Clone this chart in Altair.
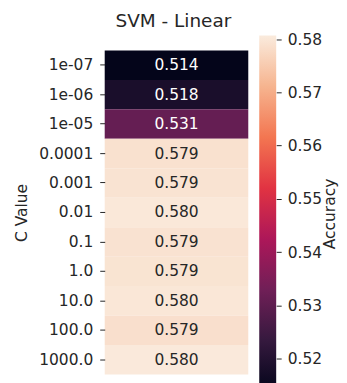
import altair as alt
import pandas as pd

c_labels = ["1e-07", "1e-06", "1e-05", "0.0001", "0.001", "0.01", "0.1",
            "1.0", "10.0", "100.0", "1000.0"]
accuracy = [0.5139, 0.5182, 0.5312, 0.5790, 0.5793, 0.5802, 0.5792,
            0.5794, 0.5800, 0.5787, 0.5804]
color_min, color_max = 0.5138, 0.5807
rocket = ["#03051A", "#35193E", "#701F57", "#AD1759", "#E13342",
          "#F37651", "#F6B48F", "#FAEBDD"]
legend_ticks = [0.52, 0.53, 0.54, 0.55, 0.56, 0.57, 0.58]

df = pd.DataFrame({
    "C": c_labels,
    "Accuracy": accuracy,
    "label": [f"{v:.3f}" for v in accuracy],
    "col": ["0"] * len(c_labels),
})
cbar_df = pd.DataFrame({"lo": [color_min], "hi": [color_max]})
domain = [color_min + (color_max - color_min) * i / (len(rocket) - 1)
          for i in range(len(rocket))]

FONT = "DejaVu Sans"
TXT = "#262626"
FS = 15.5

base = alt.Chart(df).encode(
    y=alt.Y("C:N", sort=c_labels, title="C Value",
            scale=alt.Scale(paddingInner=0, paddingOuter=0, range=[15, 340]),
            axis=alt.Axis(labelFont=FONT, labelFontSize=FS, labelColor=TXT,
                          titleFont=FONT, titleFontSize=FS, titleColor=TXT,
                          titleFontWeight="normal", titlePadding=9,
                          tickSize=5, tickColor=TXT, labelPadding=7,
                          domain=False, grid=False)),
    x=alt.X("col:N", axis=None, scale=alt.Scale(paddingInner=0, paddingOuter=0)),
)

rect = base.mark_rect().encode(
    color=alt.Color("Accuracy:Q",
                    scale=alt.Scale(domain=domain, range=rocket, interpolate="rgb"),
                    legend=None),
)

text = base.mark_text(font=FONT, fontSize=FS).encode(
    text="label:N",
    color=alt.condition("datum.Accuracy < 0.55", alt.value("white"), alt.value(TXT)),
)

heat = (rect + text).properties(width=144, height=340)

gradient = alt.Gradient(
    gradient="linear",
    stops=[alt.GradientStop(offset=i / (len(rocket) - 1), color=c)
           for i, c in enumerate(rocket)],
    x1=0, x2=0, y1=1, y2=0,
)

cbar = alt.Chart(cbar_df).mark_rect(fill=gradient).encode(
    y=alt.Y("lo:Q",
            scale=alt.Scale(domain=[color_min, color_max], nice=False, zero=False),
            axis=alt.Axis(orient="right", values=legend_ticks, format=".2f",
                          title="Accuracy", titleAngle=270, titleBaseline="top",
                          labelFont=FONT, labelFontSize=FS, labelColor=TXT,
                          titleFont=FONT, titleFontSize=FS, titleColor=TXT,
                          titleFontWeight="normal", titlePadding=1,
                          tickSize=5, tickColor=TXT, labelPadding=6,
                          domain=False, grid=False, labelFlush=False)),
    y2="hi:Q",
).properties(width=17, height=357)

chart = alt.hconcat(heat, cbar, spacing=11).properties(
    title=alt.TitleParams("SVM - Linear", font=FONT, fontSize=18.5,
                          fontWeight="normal", color=TXT, offset=2,
                          anchor="start", frame="bounds", dx=101),
    padding={"left": 6, "top": 3, "right": 0, "bottom": 0},
).configure_view(stroke=None)

chart.save("out.html", embed_options={"renderer": "svg", "actions": False})
